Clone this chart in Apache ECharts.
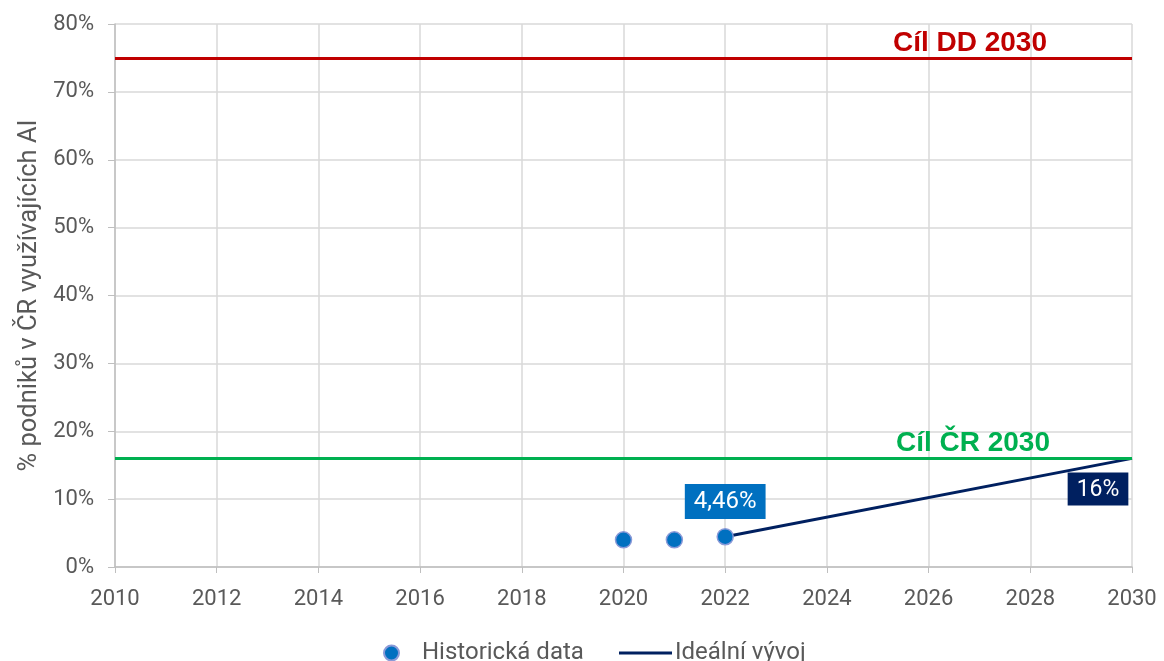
<!DOCTYPE html>
<html>
<head>
<meta charset="utf-8">
<script src="https://cdn.jsdelivr.net/npm/echarts@6/dist/echarts.min.js"></script>
<style>
  html, body { margin: 0; padding: 0; background: #fff; }
  #chart { width: 1164px; height: 661px; }
</style>
</head>
<body>
<div id="chart"></div>
<script>
// historická data (rok, %)
const histYears = [2020, 2021, 2022]
const histValues = [4.0, 4.0, 4.46]
// ideální vývoj 2022 -> 2030
const idealYears = [2022, 2030]
const idealValues = [4.46, 16]
// cíle
const targetDD = 75
const targetCR = 16
const xMin = 2010
const xMax = 2030

const grey = '#595959'
const font = 'Roboto, "Noto Sans", sans-serif'
const boldFont = '"Liberation Sans", Arial, sans-serif'

const chart = echarts.init(document.getElementById('chart'))

const histData = histYears.map((y, i) => {
  const item = { value: [y, histValues[i]] }
  // popisek jen u posledniho bodu
  if (i === histYears.length - 1) item.label = { show: true }
  return item
})
const idealData = idealYears.map((y, i) => {
  const item = { value: [y, idealValues[i]] }
  if (i === idealYears.length - 1) item.label = { show: true }
  return item
})

const option = {
  animation: false,
  textStyle: { fontFamily: font },
  grid: { left: 115, right: 32, top: 24, bottom: 94 },
  legend: [
    {
      data: [{ name: 'Historická data', icon: 'circle' }],
      left: 378,
      top: 636,
      itemWidth: 15,
      itemHeight: 15,
      textStyle: { color: grey, fontSize: 24, fontFamily: font, padding: [0, 0, 0, 18] }
    },
    {
      data: [{ name: 'Ideální vývoj', icon: 'rect' }],
      left: 614,
      top: 636,
      itemWidth: 53,
      itemHeight: 3,
      textStyle: { color: grey, fontSize: 24, fontFamily: font, padding: [0, 0, 0, -2] }
    }
  ],
  xAxis: {
    type: 'value',
    min: xMin,
    max: xMax,
    interval: 2,
    axisLine: { show: true, lineStyle: { color: '#bfbfbf', width: 1.5 } },
    axisTick: { show: true, length: 6, lineStyle: { color: '#bfbfbf' } },
    axisLabel: { color: grey, fontSize: 22, margin: 21, formatter: v => String(v) },
    splitLine: { show: true, lineStyle: { color: '#d9d9d9', width: 1.5 } }
  },
  yAxis: {
    type: 'value',
    min: 0,
    max: 80,
    interval: 10,
    name: '% podniků v ČR využívajících AI',
    nameLocation: 'middle',
    nameGap: 71,
    nameTextStyle: { color: grey, fontSize: 25.5, fontFamily: font },
    axisLine: { show: true, lineStyle: { color: '#bfbfbf', width: 1.5 } },
    axisTick: { show: true, length: 7, lineStyle: { color: '#bfbfbf' } },
    axisLabel: { color: grey, fontSize: 22, margin: 21, formatter: v => v + '%' },
    splitLine: { show: true, lineStyle: { color: '#d9d9d9', width: 1.5 } }
  },
  series: [
    {
      name: 'Cíle',
      type: 'line',
      data: [],
      silent: true,
      z: 3,
      markLine: {
        silent: true,
        symbol: 'none',
        animation: false,
        data: [
          {
            yAxis: targetDD,
            lineStyle: { color: '#C00000', width: 3, type: 'solid' },
            label: { formatter: 'Cíl DD 2030', color: '#C00000', padding: [0, 84, 0, 0] }
          },
          {
            yAxis: targetCR,
            lineStyle: { color: '#00B050', width: 3, type: 'solid' },
            label: { formatter: 'Cíl ČR 2030', color: '#00B050', padding: [0, 81, 0, 0] }
          }
        ],
        label: {
          show: true,
          position: 'insideEndTop',
          distance: 1,
          fontSize: 28,
          fontWeight: 'bold',
          fontFamily: boldFont
        }
      }
    },
    {
      name: 'Ideální vývoj',
      type: 'line',
      data: idealData,
      symbol: 'circle',
      symbolSize: 0.1,
      showSymbol: true,
      itemStyle: { color: '#002060' },
      lineStyle: { color: '#002060', width: 3 },
      z: 4,
      label: {
        show: false,
        formatter: p => p.value[1] + '%',
        position: 'bottom',
        distance: 14,
        offset: [-34, 0],
        color: '#fff',
        fontSize: 23,
        fontFamily: font,
        backgroundColor: '#002060',
        padding: [6, 9, 4, 9]
      }
    },
    {
      name: 'Historická data',
      type: 'scatter',
      data: histData,
      symbol: 'circle',
      symbolSize: 16,
      itemStyle: { color: '#0070C0', borderColor: '#8a9ad8', borderWidth: 1.5, opacity: 1 },
      z: 5,
      label: {
        show: false,
        formatter: p => String(p.value[1]).replace('.', ',') + '%',
        position: 'top',
        distance: 9,
        color: '#fff',
        fontSize: 24,
        fontFamily: font,
        backgroundColor: '#0070C0',
        padding: [6, 9, 5, 9]
      }
    }
  ]
}

chart.setOption(option)
</script>
</body>
</html>
